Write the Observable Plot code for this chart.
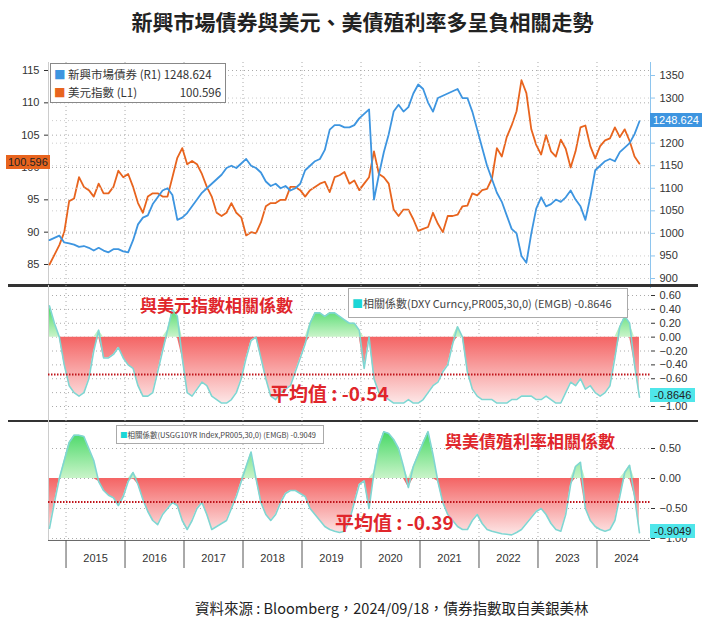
<!DOCTYPE html>
<html><head><meta charset="utf-8">
<script src="https://cdn.jsdelivr.net/npm/d3@7"></script>
<script src="https://cdn.jsdelivr.net/npm/@observablehq/plot@0.6"></script>
<style>
body{margin:0;background:#fff;font-family:"Noto Sans CJK TC","Noto Sans",sans-serif;}
#wrap{position:relative;width:725px;height:626px;overflow:hidden;}
</style></head><body><div id="wrap"></div>
<script>
const startYear = 2014.72;
const years = [2015,2016,2017,2018,2019,2020,2021,2022,2023,2024];
const dxy = [85,86.5,88,90,
94.8,95.2,98.5,97,96.5,95.5,97.5,96,96,97,99.5,98.5,
99,97,94.5,93,95.5,96,96,95.5,95.5,98.5,101.5,103,
100.5,101,100.5,99,97,95.5,93,92.5,93,94.5,93,92.3,
89.5,90,89.8,91.5,94,94.5,94.5,95,95,97,97,96.5,
95.5,96.5,97,97.5,97.8,96.2,98.5,98.8,99.3,97.5,98,96.5,
97.5,98.5,102.5,99,98.5,97.5,93.5,92.5,93.5,93.5,92,90.2,
90.5,90.8,93,91.3,90,92.5,92.5,92.7,94,94.1,96,95.7,
96.5,96.7,98.3,103,101.7,104.7,106.5,108.7,113.5,111.5,105.9,103.5,
102,105,102.5,101.7,104.3,102.9,100,102.5,106.2,106.5,103.3,101.4,
103.3,104.2,104.5,106.2,104.7,105.9,104.1,101.7,100.596];
const emgb = [985,990,995,980,
978,975,970,972,968,962,968,962,958,965,965,960,
958,985,1020,1035,1040,1065,1080,1095,1100,1085,1030,1035,
1045,1060,1075,1090,1100,1110,1120,1130,1145,1150,1145,1155,
1165,1150,1145,1135,1115,1105,1110,1100,1105,1095,1100,1110,
1140,1150,1160,1165,1185,1230,1240,1240,1235,1235,1240,1255,
1265,1275,1075,1130,1180,1220,1270,1285,1270,1280,1310,1330,
1320,1290,1270,1300,1305,1310,1315,1320,1300,1300,1270,1230,
1190,1150,1120,1090,1070,1040,1010,1000,950,935,1000,1055,
1080,1060,1065,1075,1070,1080,1095,1075,1060,1030,1080,1140,
1150,1160,1165,1160,1180,1190,1200,1220,1248.624];
const corrDxy = [0.45,0.2,0.0,-0.4,
-0.7,-0.8,-0.85,-0.8,-0.6,-0.2,0.1,-0.3,-0.3,-0.25,-0.15,-0.3,
-0.4,-0.45,-0.7,-0.85,-0.85,-0.8,-0.5,-0.2,0.1,0.4,0.3,-0.3,
-0.8,-0.85,-0.75,-0.65,-0.7,-0.85,-0.9,-0.95,-0.95,-0.9,-0.8,-0.6,
-0.3,-0.05,0.0,-0.3,-0.6,-0.85,-0.9,-0.8,-0.75,-0.7,-0.5,-0.3,
-0.1,0.2,0.35,0.35,0.3,0.35,0.35,0.3,0.25,0.2,0.2,0.1,
-0.45,0.0,-0.6,-0.8,-0.85,-0.9,-0.95,-0.95,-0.95,-0.9,-0.95,-0.95,
-0.9,-0.8,-0.7,-0.65,-0.5,-0.4,-0.1,0.15,0.0,-0.5,-0.75,-0.85,
-0.9,-0.9,-0.9,-0.95,-0.95,-0.95,-0.9,-0.9,-0.85,-0.85,-0.85,-0.9,
-0.9,-0.85,-0.9,-0.95,-0.95,-0.8,-0.65,-0.7,-0.6,-0.75,-0.7,-0.8,
-0.85,-0.8,-0.7,-0.3,0.15,0.3,0.2,-0.4,-0.8646];
const corrUst = [-0.83,-0.4,0.0,0.3,0.6,0.72,0.72,0.7,0.5,0.3,-0.05,-0.2,
-0.28,-0.32,-0.45,-0.3,-0.05,0.1,-0.1,-0.35,-0.55,-0.7,-0.77,-0.6,
-0.5,-0.4,-0.45,-0.7,-0.85,-0.7,-0.5,-0.4,-0.6,-0.85,-0.8,-0.75,
-0.7,-0.5,-0.3,-0.05,0.2,0.44,0.0,-0.4,-0.6,-0.7,-0.6,-0.4,
-0.25,-0.2,-0.2,-0.25,-0.3,-0.5,-0.6,-0.7,-0.8,-0.85,-0.88,-0.9,
-0.88,-0.7,-0.4,-0.1,-0.04,-0.5,0.1,0.55,0.78,0.75,0.65,0.5,
0.2,-0.15,0.2,0.4,0.6,0.78,0.4,-0.05,-0.4,-0.6,-0.7,-0.8,
-0.85,-0.85,-0.7,-0.6,-0.75,-0.85,-0.88,-0.9,-0.92,-0.93,-0.94,-0.9,
-0.85,-0.75,-0.65,-0.55,-0.5,-0.6,-0.75,-0.85,-0.88,-0.6,-0.1,0.2,
0.27,-0.5,-0.7,-0.8,-0.85,-0.88,-0.85,-0.7,-0.3,0.1,0.22,-0.3,-0.9049];
const meanDxy = -0.54, meanUst = -0.39;

const t = i => startYear + i/12;
const topData = dxy.map((v,i)=>({x:t(i), dxy:v, emgb:emgb[i]}));
const c1 = corrDxy.map((v,i)=>({x:t(i), v}));
const c2 = corrUst.map((v,i)=>({x:t(i), v}));
const xDom = [2014.703, 2024.907];
const wrap = document.getElementById("wrap");
function place(el, top, left=0){el.style.position="absolute";el.style.top=top+"px";el.style.left=left+"px";wrap.appendChild(el);return el;}
function html(s, css){const d=document.createElement("div");d.innerHTML=s;d.style.cssText="position:absolute;"+css;wrap.appendChild(d);return d;}
const grid = {stroke:"#aaa", strokeDasharray:"1,3", strokeWidth:1};
const axStyle = {fontSize:11, fontFamily:"Liberation Sans, sans-serif"};
const fmtInt = d => String(d);

html("新興市場債券與美元、美債殖利率多呈負相關走勢","top:6px;left:0;width:725px;text-align:center;font-size:21px;font-weight:bold;color:#222;");

const p1 = Plot.plot({width:725,height:226,marginLeft:48,marginRight:75,marginTop:0,marginBottom:0,
  style:{...axStyle, background:"transparent", color:"#333"},
  x:{domain:xDom, axis:null},
  y:{domain:[85,115], range:[202,8]},
  marks:[
    Plot.ruleY([85,90,95,100,105,110,115], grid),
    Plot.ruleX(years, grid),
    Plot.ruleX([xDom[0]], {stroke:"#ccc"}),
    Plot.axisY({anchor:"left", ticks:[85,90,95,100,105,110,115], tickSize:4, label:null, tickFormat:fmtInt}),
    Plot.lineY(topData,{x:"x", y:"dxy", stroke:"#e8641e", strokeWidth:1.8})
  ]});
place(p1, 62);
const p1b = Plot.plot({width:725,height:226,marginLeft:48,marginRight:75,marginTop:0,marginBottom:0,
  style:{...axStyle, background:"transparent", color:"#333"},
  x:{domain:xDom, axis:null},
  y:{domain:[900,1350], range:[216,13]},
  marks:[
    Plot.ruleY(d3.range(900,1351,50), {...grid, stroke:"#ccc"}),
    Plot.ruleX([xDom[1]], {stroke:"#8ec5ee"}),
    Plot.axisY({anchor:"right", ticks:d3.range(900,1351,50), tickSize:4, label:null, tickFormat:fmtInt, stroke:"#8ec5ee"}),
    Plot.lineY(topData,{x:"x", y:"emgb", stroke:"#3d95e0", strokeWidth:1.8})
  ]});
place(p1b, 62);
html('<div><span style="color:#3d95e0">■</span> 新興市場債券 (R1) 1248.624</div><div><span style="color:#e8641e">■</span> 美元指數 (L1) <span style="margin-left:40px">100.596</span></div>',
 "top:63px;left:50px;width:168px;padding:1px 3px;font-size:11.5px;line-height:18px;color:#333;background:#fff;border:1px solid #888;");
html("100.596","top:155px;left:6px;background:#e8641e;color:#222;font-size:11px;padding:1px 2px;font-family:'Liberation Sans';");
html("1248.624","top:113px;left:650px;background:#3d95e0;color:#fff;font-size:11px;padding:1px 3px;font-family:'Liberation Sans';");
html("","top:284px;left:8px;width:690px;height:3px;background:#333;");
html("","top:420px;left:8px;width:690px;height:2px;background:#333;");

function corrPanel(data, mean, id, opts){
  const p = Plot.plot({width:725,height:opts.height,marginLeft:48,marginRight:75,marginTop:0,marginBottom:opts.mb,
    style:{...axStyle, background:"transparent", color:"#333"},
    x:{domain:xDom, axis:null},
    y:{domain:opts.dom, range:opts.range},
    marks:[
      Plot.ruleY(opts.ticks, grid),
      Plot.ruleX(years, grid),
      Plot.ruleX([xDom[0]], {stroke:"#ccc"}),
      Plot.areaY(data,{x:"x", y1:0, y2:d=>Math.min(d.v,0), fill:`url(#r${id})`}),
      Plot.areaY(data,{x:"x", y1:0, y2:d=>Math.max(d.v,0), fill:`url(#g${id})`}),
      Plot.lineY(data,{x:"x", y:"v", stroke:"#7fd6d2", strokeWidth:1.6}),
      Plot.ruleY([mean],{stroke:"#c0141b", strokeWidth:2, strokeDasharray:"1.5,1.5"}),
      Plot.axisY({anchor:"right", ticks:opts.ticks, tickSize:4, label:null, tickFormat:d3.format(".2f")}),
      ...(opts.xaxis ? [
        Plot.ruleY([opts.dom[0]-0.033],{stroke:"#666"}),
        Plot.axisX({ticks:years, tickSize:28, tickFormat:()=>"", stroke:"#555", label:null}),
        Plot.axisX({ticks:years.map(y=>y+0.5), tickSize:0, tickPadding:14, tickFormat:d=>String(Math.floor(d)), fontSize:11, label:null})
      ] : [])
    ]});
  d3.select(p).insert("defs",":first-child").html(
   `<linearGradient id="r${id}" x1="0" y1="0" x2="0" y2="1"><stop offset="0" stop-color="#f46464"/><stop offset="1" stop-color="#fde6e6"/></linearGradient>
    <linearGradient id="g${id}" x1="0" y1="0" x2="0" y2="1"><stop offset="0" stop-color="#46d865"/><stop offset="1" stop-color="#c9f4c9"/></linearGradient>`);
  return p;
}
place(corrPanel(c1, meanDxy, 1, {height:135, mb:0, dom:[-1,0.6], range:[121,10], ticks:[-1,-0.8,-0.6,-0.4,-0.2,0,0.2,0.4,0.6]}), 285);
place(corrPanel(c2, meanUst, 2, {height:160, mb:40, dom:[-1,0.5], range:[118,28], ticks:[-1,-0.5,0,0.5], xaxis:true}), 420);

html('<span style="color:#1ad6d6">■</span>相關係數(DXY Curncy,PR005,30,0) (EMGB) -0.8646',
 "top:288px;left:348px;width:272px;padding:6px 3px;font-size:11px;color:#444;background:#fff;border:1px solid #aaa;white-space:nowrap;");
html('<span style="color:#1ad6d6">■</span>相關係數(USGG10YR Index,PR005,30,0) (EMGB) -0.9049',
 "top:425px;left:116px;width:200px;padding:3px 3px;font-size:7.5px;color:#444;background:#fff;border:1px solid #aaa;white-space:nowrap;");
html("與美元指數相關係數","top:292px;left:140px;font-size:17px;font-weight:bold;color:#e0262b;");
html("與美債殖利率相關係數","top:428px;left:445px;font-size:17px;font-weight:bold;color:#e0262b;");
html("平均值 : -0.54","top:379px;left:270px;font-size:19px;font-weight:bold;color:#e0262b;");
html("平均值 : -0.39","top:508px;left:335px;font-size:19px;font-weight:bold;color:#e0262b;");
html("-0.8646","top:388px;left:650px;background:#4fe6ea;color:#222;font-size:11px;padding:1px 4px;font-family:'Liberation Sans';");
html("-0.9049","top:524px;left:650px;background:#4fe6ea;color:#222;font-size:11px;padding:1px 4px;font-family:'Liberation Sans';");
html("資料來源 : Bloomberg，2024/09/18，債券指數取自美銀美林","top:597px;left:195px;font-size:14.5px;color:#222;");
</script></body></html>
